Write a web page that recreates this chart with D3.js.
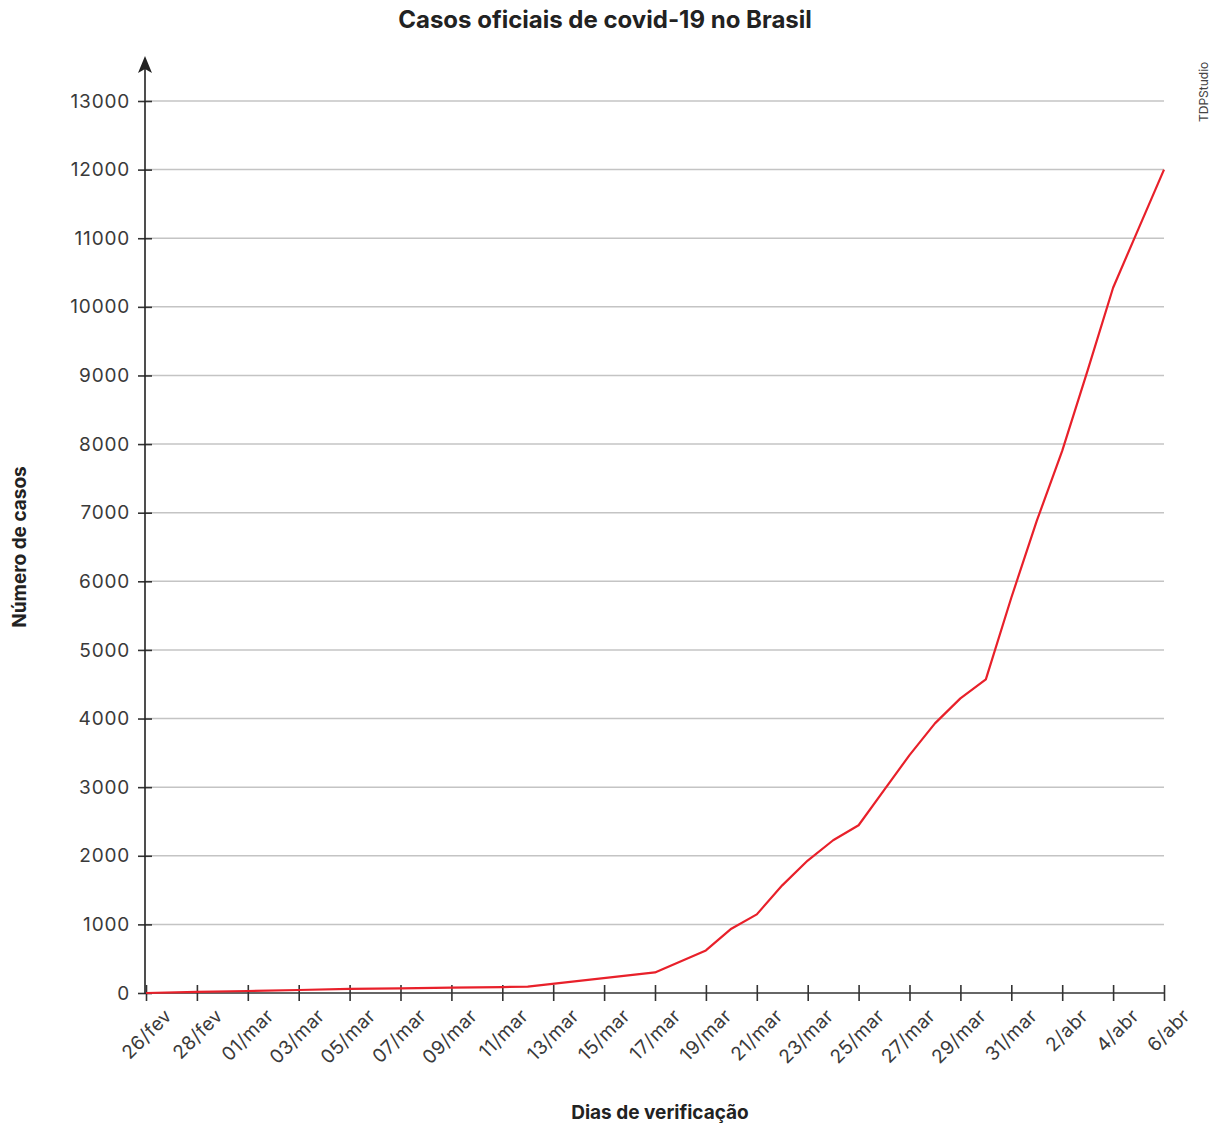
<!DOCTYPE html>
<html>
  <head>
    <meta charset="utf-8">
    <script src="https://d3js.org/d3.v7.min.js"></script>
    <style>
      body { margin: 0; background: #fff; }
      text { font-family: Inter, "Noto Sans", sans-serif; }
    </style>
  </head>
<body>
  <script type="text/javascript">
    // dados (datas em 2020)
    var days = ["2020-02-26","2020-02-28","2020-03-01","2020-03-03","2020-03-05","2020-03-07",
                "2020-03-09","2020-03-11","2020-03-12","2020-03-17","2020-03-19","2020-03-20",
                "2020-03-21","2020-03-22","2020-03-23","2020-03-24","2020-03-25","2020-03-26",
                "2020-03-27","2020-03-28","2020-03-29","2020-03-30","2020-03-31","2020-04-01",
                "2020-04-02","2020-04-03","2020-04-04","2020-04-05","2020-04-06"];
    var cases = [0, 15, 29, 44, 59, 68,
                 77, 87, 92, 300, 621, 937,
                 1146, 1569, 1930, 2226, 2445, 2956,
                 3467, 3930, 4294, 4571, 5760, 6880,
                 7900, 9073, 10279, 11140, 12000];

    var tickDays = ["2020-02-26","2020-02-28","2020-03-01","2020-03-03","2020-03-05","2020-03-07",
                    "2020-03-09","2020-03-11","2020-03-13","2020-03-15","2020-03-17","2020-03-19",
                    "2020-03-21","2020-03-23","2020-03-25","2020-03-27","2020-03-29","2020-03-31",
                    "2020-04-02","2020-04-04","2020-04-06"];
    var tickLabels = ["26/fev","28/fev","01/mar","03/mar","05/mar","07/mar","09/mar","11/mar",
                      "13/mar","15/mar","17/mar","19/mar","21/mar","23/mar","25/mar","27/mar",
                      "29/mar","31/mar","2/abr","4/abr","6/abr"];
    var yTicks = [0,1000,2000,3000,4000,5000,6000,7000,8000,9000,10000,11000,12000,13000];

    var parse = d3.timeParse("%Y-%m-%d");
    var data = days.map(function(d, i) { return { date: parse(d), value: cases[i] }; });

    var width = 1216, height = 1127;
    var mLeft = 146, mRight = 1164, mTop = 101, mBottom = 993;

    var svg = d3.select("body").append("svg")
        .attr("width", width)
        .attr("height", height);

    var x = d3.scaleTime()
        .domain([parse(tickDays[0]), parse(tickDays[tickDays.length - 1])])
        .range([mLeft, mRight]);
    var y = d3.scaleLinear().domain([0, 13000]).range([mBottom, mTop]);

    // grade horizontal
    svg.append("g").selectAll("line")
      .data(yTicks.filter(function(d) { return d > 0; }))
      .enter().append("line")
        .attr("x1", mLeft).attr("x2", mRight)
        .attr("y1", function(d) { return y(d); })
        .attr("y2", function(d) { return y(d); })
        .attr("stroke", "#c4c4c4")
        .attr("stroke-width", 1.5);

    // eixo y
    var yAxis = svg.append("g")
        .attr("transform", "translate(" + (mLeft - 1) + ",0)")
        .call(d3.axisLeft(y).tickValues(yTicks).tickSize(8).tickPadding(7).tickFormat(d3.format("d")));
    yAxis.select(".domain").remove();
    yAxis.selectAll(".tick line").attr("x2", 7).attr("x1", -7).attr("stroke", "#333").attr("stroke-width", 1.6);
    yAxis.selectAll(".tick text")
        .attr("font-size", 19)
        .attr("fill", "#3a3a3a")
        .attr("letter-spacing", 0.8)
        .attr("font-family", "Inter, sans-serif");

    svg.append("line")
        .attr("x1", mLeft - 1).attr("x2", mLeft - 1)
        .attr("y1", mBottom + 1).attr("y2", 66)
        .attr("stroke", "#222")
        .attr("stroke-width", 1.6);
    svg.append("path")
        .attr("d", "M" + (mLeft - 8) + ",73 L" + (mLeft - 1) + ",56 L" + (mLeft + 6) + ",73 L" + (mLeft - 1) + ",69 z")
        .attr("fill", "#222");

    // eixo x
    var xAxis = svg.append("g")
        .attr("transform", "translate(0," + mBottom + ")")
        .call(d3.axisBottom(x).tickValues(tickDays.map(parse)).tickSize(8).tickFormat(""));
    xAxis.select(".domain").attr("d", "M" + mLeft + ",0H" + mRight).attr("stroke", "#333").attr("stroke-width", 1.6);
    xAxis.selectAll(".tick line").attr("y1", -8).attr("y2", 8).attr("stroke", "#333").attr("stroke-width", 1.6);

    svg.append("g").selectAll("text")
      .data(tickDays)
      .enter().append("text")
        .attr("transform", function(d) {
          return "translate(" + (x(parse(d)) + 27) + "," + (mBottom + 24) + ") rotate(-45)";
        })
        .attr("text-anchor", "end")
        .attr("font-size", 19)
        .attr("fill", "#3a3a3a")
        .attr("letter-spacing", 0.5)
        .text(function(d, i) { return tickLabels[i]; });

    // linha
    var line = d3.line()
        .x(function(d) { return x(d.date); })
        .y(function(d) { return y(d.value); });

    svg.append("path")
        .datum(data)
        .attr("d", line)
        .attr("fill", "none")
        .attr("stroke", "#e8202a")
        .attr("stroke-width", 2.2)
        .attr("stroke-linejoin", "round");

    // textos
    svg.append("text")
        .attr("x", 605).attr("y", 28)
        .attr("text-anchor", "middle")
        .attr("font-size", 24)
        .attr("font-weight", "bold")
        .attr("fill", "#222")
        .text("Casos oficiais de covid-19 no Brasil");

    svg.append("text")
        .attr("transform", "translate(26,547) rotate(-90)")
        .attr("text-anchor", "middle")
        .attr("font-size", 19)
        .attr("font-weight", "bold")
        .attr("fill", "#222")
        .text("Número de casos");

    svg.append("text")
        .attr("x", 660).attr("y", 1119)
        .attr("text-anchor", "middle")
        .attr("font-size", 19)
        .attr("font-weight", "bold")
        .attr("fill", "#222")
        .text("Dias de verificação");

    svg.append("text")
        .attr("transform", "translate(1208,122) rotate(-90)")
        .attr("font-size", 12)
        .attr("fill", "#444")
        .text("TDPStudio");
  </script>
</body>
</html>
